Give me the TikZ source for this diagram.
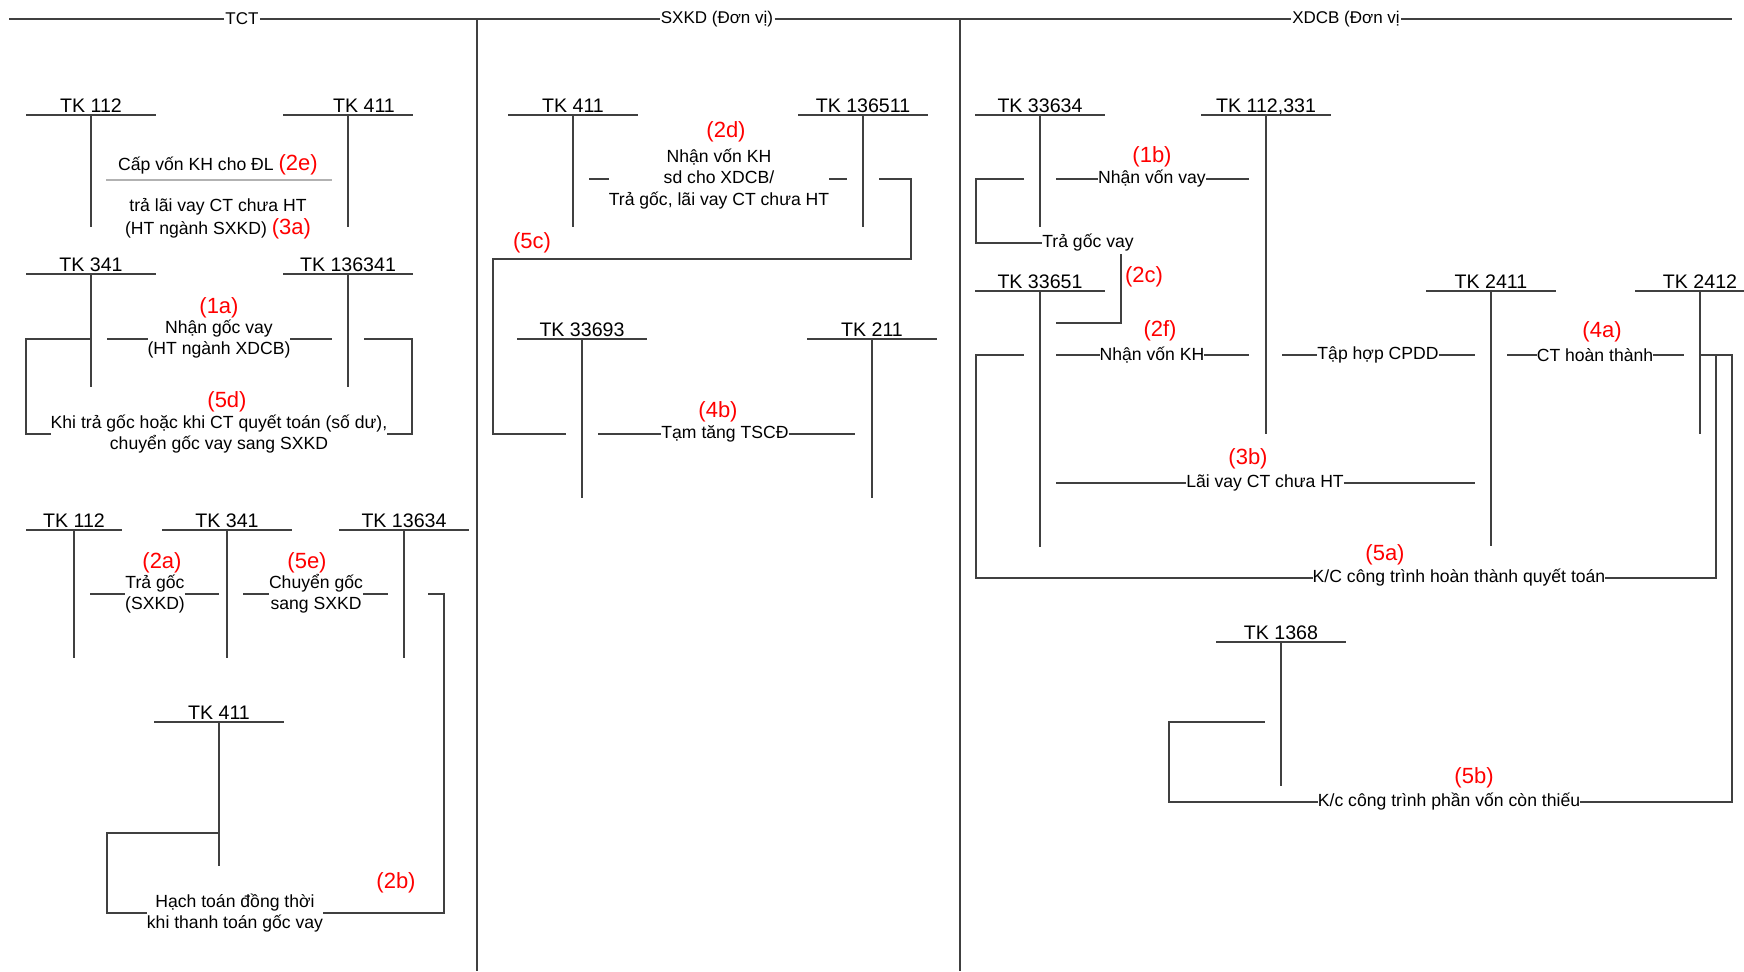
\documentclass[tikz,border=0pt]{standalone}
\usepackage{fontspec}
\setmainfont{Liberation Sans}
\newcommand{\redno}[1]{{\fontsize{11}{12}\selectfont\color{red}#1}}

\begin{document}
\begin{tikzpicture}[
    x=0.5pt, y=-0.5pt,
    tline/.style={draw=black!75, line width=0.7pt},
    sepline/.style={draw=black!30, line width=0.6pt},
    hdr/.style={font=\fontsize{8.5}{10}\selectfont, inner sep=0.5pt},
    acct/.style={font=\fontsize{9.8}{11}\selectfont, anchor=base, inner sep=0pt},
    lbl/.style={font=\fontsize{8.8}{10.3}\selectfont, align=center, inner sep=0pt, outer sep=0pt},
    num/.style={font=\fontsize{11}{12}\selectfont, text=red, inner sep=0pt}
  ]
    \useasboundingbox (0,0) rectangle (1744,971);
    % header and column dividers
    \coordinate (hl) at (9,19);
    \coordinate (hr) at (1732,19);
    \node[hdr] (hTCT) at (242,19) {TCT};
    \node[hdr] (hSXKD) at (717,19) {SXKD (Đơn vị)};
    \node[hdr] (hXDCB) at (1346,19) {XDCB (Đơn vị};
    \draw[tline] (hl) -- (hTCT) -- (hSXKD) -- (hXDCB) -- (hr);
    \coordinate (v1t) at (477,19);
    \coordinate (v1b) at (477,971);
    \coordinate (v2t) at (960,19);
    \coordinate (v2b) at (960,971);
    \draw[tline] (v1t) -- (v1b);
    \draw[tline] (v2t) -- (v2b);
    % T accounts
    \foreach \n/\x/\y/\w/\b/\s/\l in {
        a112/91/115/65/227/0/TK 112, a411/348/115/65/227/16/TK 411,
        a341/91/274/65/387/0/TK 341, a136341/348/274/65/387/0/TK 136341,
        b112/74/530/48/658/0/TK 112, b341/227/530/65/658/0/TK 341,
        b13634/404/530/65/658/0/TK 13634, b411/219/722/65/866/0/TK 411,
        c411/573/115/65/227/0/TK 411, c136511/863/115/65/227/0/TK 136511,
        c33693/582/339/65/498/0/TK 33693, c211/872/339/65/498/0/TK 211,
        d33634/1040/115/65/227/0/TK 33634, d112331/1266/115/65/434/0/{TK 112,331},
        d33651/1040/291/65/547/0/TK 33651, d2411/1491/291/65/546/0/TK 2411,
        d2412/1700/291/65/434/0/TK 2412, d1368/1281/642/65/786/0/TK 1368}{
      \node[acct] (\n) at ({\x+\s},{\y-3}) {\l};
      \draw[tline] ({\x-\w},\y) -- ({\x+\w},\y);
      \draw[tline] (\x,\y) -- (\x,\b);
    }
    % TCT
    \node[lbl] (t2e) at (218,165) {Cấp vốn KH cho ĐL \redno{(2e)}};
    \coordinate (g2e) at (106,180);
    \coordinate (h2e) at (332,180);
    \draw[sepline] (g2e) -- (h2e);
    \node[lbl, font=\fontsize{8.8}{11.5}\selectfont] (t3a) at (218,219) {trả lãi vay CT chưa HT\\(HT ngành SXKD) \redno{(3a)}};
    \node[num] (n1a) at (219,308) {(1a)};
    \node[lbl] (t1a) at (219,339) {Nhận gốc vay\\(HT ngành XDCB)};
    \coordinate (p1a) at (107,339);
    \coordinate (q1a) at (332,339);
    \draw[tline] (p1a) -- (t1a.west) (t1a.east) -- (q1a);
    \node[num] (n5d) at (227,402) {(5d)};
    \node[lbl] (t5d) at (219,434) {Khi trả gốc hoặc khi CT quyết toán (số dư),\\chuyển gốc vay sang SXKD};
    \coordinate (p5d) at (364,339);
    \coordinate (c5d) at (412,339);
    \coordinate (d5d) at (26,339);
    \coordinate (q5d) at (91,339);
    \draw[tline] (p5d) -- (c5d) |- (t5d.east);
    \draw[tline] (t5d.west) -| (d5d) -- (q5d);
    \node[num] (n2a) at (162,563) {(2a)};
    \node[lbl] (t2a) at (155,594) {Trả gốc\\(SXKD)};
    \coordinate (p2a) at (90,594);
    \coordinate (q2a) at (219,594);
    \draw[tline] (p2a) -- (t2a.west) (t2a.east) -- (q2a);
    \node[num] (n5e) at (307,563) {(5e)};
    \node[lbl] (t5e) at (316,594) {Chuyển gốc\\sang SXKD};
    \coordinate (p5e) at (243,594);
    \coordinate (q5e) at (388,594);
    \draw[tline] (p5e) -- (t5e.west) (t5e.east) -- (q5e);
    \node[num] (n2b) at (396,883) {(2b)};
    \node[lbl] (t2b) at (235,913) {Hạch toán đồng thời\\khi thanh toán gốc vay};
    \coordinate (p2b) at (428,594);
    \coordinate (c2b) at (444,594);
    \coordinate (d2b) at (107,833);
    \coordinate (q2b) at (219,833);
    \draw[tline] (p2b) -- (c2b) |- (t2b.east);
    \draw[tline] (t2b.west) -| (d2b) -- (q2b);
    % SXKD
    \node[num] (n2d) at (726,132) {(2d)};
    \node[lbl, font=\fontsize{8.8}{10.8}\selectfont] (t2d) at (719,179) {Nhận vốn KH\\sd cho XDCB/\\Trả gốc, lãi vay CT chưa HT};
    \coordinate (p2d) at (589,179);
    \coordinate (q2d) at (847,179);
    \draw[tline] (p2d) -- (t2d.west) (t2d.east) -- (q2d);
    \node[num] (n5c) at (532,243) {(5c)};
    \coordinate (p5c) at (879,179);
    \coordinate (c5c) at (911,259);
    \coordinate (d5c) at (493,259);
    \coordinate (q5c) at (566,434);
    \draw[tline] (p5c) -| (c5c) -- (d5c) |- (q5c);
    \node[num] (n4b) at (718,412) {(4b)};
    \node[lbl] (t4b) at (725,434) {Tạm tăng TSCĐ};
    \coordinate (p4b) at (598,434);
    \coordinate (q4b) at (855,434);
    \draw[tline] (p4b) -- (t4b.west) (t4b.east) -- (q4b);
    % XDCB
    \node[num] (n1b) at (1152,157) {(1b)};
    \node[lbl] (t1b) at (1152,179) {Nhận vốn vay};
    \coordinate (p1b) at (1056,179);
    \coordinate (q1b) at (1249,179);
    \draw[tline] (p1b) -- (t1b.west) (t1b.east) -- (q1b);
    \node[lbl] (ttg) at (1088,243) {Trả gốc vay};
    \coordinate (ptg) at (1024,179);
    \coordinate (ctg) at (976,179);
    \draw[tline] (ptg) -- (ctg) |- (ttg.west);
    \node[num] (n2c) at (1144,277) {(2c)};
    \coordinate (p2c) at (1121,254);
    \coordinate (q2c) at (1056,323);
    \draw[tline] (p2c) |- (q2c);
    \node[num] (n2f) at (1160,331) {(2f)};
    \node[lbl] (t2f) at (1152,355) {Nhận vốn KH};
    \coordinate (p2f) at (1056,355);
    \coordinate (q2f) at (1249,355);
    \draw[tline] (p2f) -- (t2f.west) (t2f.east) -- (q2f);
    \node[lbl] (tcp) at (1378,355) {Tập hợp CPDD};
    \coordinate (pcp) at (1282,355);
    \coordinate (qcp) at (1475,355);
    \draw[tline] (pcp) -- (tcp.west) (tcp.east) -- (qcp);
    \node[num] (n4a) at (1602,332) {(4a)};
    \node[lbl] (t4a) at (1595,355) {CT hoàn thành};
    \coordinate (p4a) at (1507,355);
    \coordinate (q4a) at (1684,355);
    \draw[tline] (p4a) -- (t4a.west) (t4a.east) -- (q4a);
    \node[num] (n3b) at (1248,459) {(3b)};
    \node[lbl] (t3b) at (1265,483) {Lãi vay CT chưa HT};
    \coordinate (p3b) at (1056,483);
    \coordinate (q3b) at (1475,483);
    \draw[tline] (p3b) -- (t3b.west) (t3b.east) -- (q3b);
    \node[num] (n5a) at (1385,555) {(5a)};
    \node[lbl] (t5a) at (1459,578) {K/C công trình hoàn thành quyết toán};
    \coordinate (p5a) at (1716,355);
    \coordinate (c5a) at (976,355);
    \coordinate (q5a) at (1024,355);
    \draw[tline] (p5a) |- (t5a.east);
    \draw[tline] (t5a.west) -| (c5a) -- (q5a);
    \node[num] (n5b) at (1474,778) {(5b)};
    \node[lbl] (t5b) at (1449,802) {K/c công trình phần vốn còn thiếu};
    \coordinate (p5b) at (1700,355);
    \coordinate (c5b) at (1732,355);
    \coordinate (d5b) at (1169,722);
    \coordinate (q5b) at (1265,722);
    \draw[tline] (p5b) -- (c5b) |- (t5b.east);
    \draw[tline] (t5b.west) -| (d5b) -- (q5b);
  \end{tikzpicture}
\end{document}
